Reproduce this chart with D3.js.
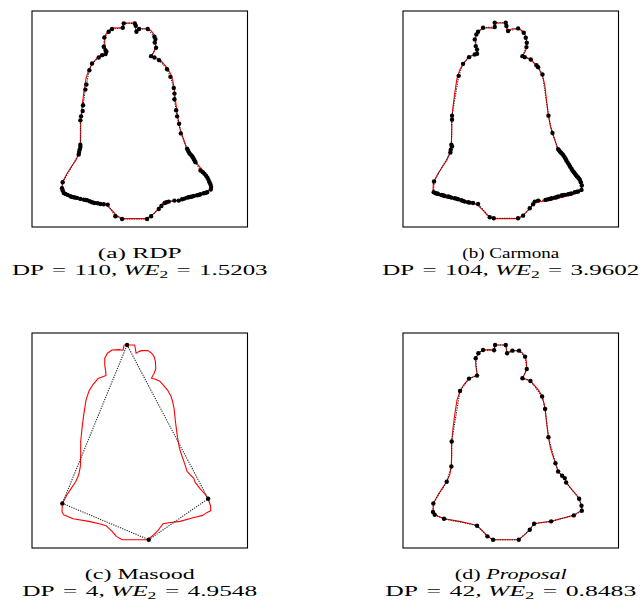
<!DOCTYPE html>
<html>
<head>
<meta charset="utf-8">
<script src="https://cdn.jsdelivr.net/npm/d3@7"></script>
<style>
  body { margin: 0; background: #fff; }
  svg { display: block; }
</style>
</head>
<body>
<svg id="chart" width="644" height="612"></svg>
<script>
// Bell contour, image coordinates (x = column, y = row, y grows downward)
const bellContour = [
  [276,36],[308,36],[310,48],[312,61],[320,56],[328,53],[348,53],[358,60],[366,71],[370,86],
  [371,108],[366,121],[358,136],[370,139],[382,144],[395,158],[408,174],[417,191],[422,208],[426,228],
  [430,266],[436,313],[442,346],[450,371],[457,391],[465,416],[477,429],[485,436],[489,449],[505,469],
  [520,486],[528,498],[535,519],[536,534],[525,539],[512,548],[480,556],[444,566],[410,570],[393,573],
  [383,586],[380,591],[365,606],[347,621],[310,621],[270,621],[253,611],[240,596],[222,579],[205,574],
  [170,566],[123,558],[95,546],[90,538],[91,512],[105,486],[118,466],[131,447],[140,426],[145,401],
  [146,366],[146,326],[150,286],[155,246],[162,201],[171,174],[182,156],[198,137],[222,128],[221,116],
  [218,96],[218,76],[226,61],[240,51],[260,50],[273,52]
];

// Dominant points found by each method (same coordinate frame)
const rdpPoints = [
  [275,37],[308,37],[311,44],[313,62],[321,54],[347,54],[367,77],[370,84],[368,94],[372,110],
  [357,135],[367,139],[381,147],[405,174],[415,197],[425,230],[427,247],[427,264],[432,297],[435,315],
  [441,337],[446,366],[465,412],[468,418],[471,424],[474,428],[478,432],[481,436],[484,441],[487,446],
  [490,452],[505,477],[512,482],[517,487],[522,493],[526,499],[529,505],[532,512],[535,519],[537,526],
  [536,534],[525,542],[520,544],[515,545],[505,548],[500,550],[495,551],[485,553],[480,555],[475,556],
  [470,557],[465,558],[457,561],[450,563],[440,567],[427,567],[410,570],[403,572],[398,574],[388,583],
  [380,592],[357,614],[345,622],[270,622],[250,614],[227,579],[215,578],[205,577],[197,575],[187,574],
  [180,572],[173,569],[165,566],[160,565],[155,564],[145,562],[135,559],[130,558],[125,557],[120,556],
  [115,554],[107,550],[100,547],[95,544],[92,537],[90,530],[92,512],[140,429],[141,422],[143,414],
  [145,407],[145,400],[145,327],[147,315],[152,299],[153,282],[160,235],[163,220],[172,177],[180,157],
  [200,139],[210,132],[220,129],[223,122],[220,117],[215,107],[217,79],[230,62],[240,54],[272,50]
];

const carmonaPoints = [
  [275,35],[308,35],[310,45],[315,60],[345,52],[362,65],[368,80],[371,95],[370,108],[358,135],
  [365,138],[383,145],[400,162],[405,168],[418,190],[436,313],[448,365],[465,413],[467,416],[470,420],
  [474,424],[478,428],[481,432],[485,438],[488,443],[490,448],[494,454],[498,460],[501,466],[505,472],
  [508,477],[512,482],[515,486],[518,490],[521,494],[525,498],[528,502],[530,505],[533,512],[536,522],
  [535,535],[525,540],[520,541],[515,542],[505,546],[500,547],[495,548],[485,550],[480,551],[475,552],
  [465,555],[460,557],[455,558],[445,560],[440,562],[435,563],[427,565],[405,567],[395,570],[390,578],
  [380,590],[360,612],[345,620],[272,620],[260,617],[225,577],[210,574],[200,573],[195,572],[185,570],
  [180,568],[175,566],[165,563],[160,561],[155,560],[145,558],[140,556],[135,555],[125,553],[120,551],
  [115,550],[105,547],[102,546],[98,545],[92,542],[93,510],[142,423],[143,415],[147,405],[145,400],
  [147,325],[147,313],[167,194],[180,158],[198,138],[215,130],[222,128],[222,115],[218,105],[215,85],
  [220,70],[225,62],[240,50],[275,48]
];

const masoodPoints = [[285,36],[528,498],[350,621],[91,512]];

const proposalPoints = [
  [276,36],[308,36],[312,61],[328,53],[348,53],[366,71],[371,108],[358,136],[382,144],[417,191],
  [426,228],[436,313],[457,391],[465,416],[477,429],[485,436],[489,449],[528,498],[535,519],[536,534],
  [512,548],[444,566],[393,573],[380,591],[347,621],[270,621],[253,611],[222,579],[123,558],[95,546],
  [90,538],[91,512],[131,447],[145,401],[146,326],[171,174],[198,137],[222,128],[218,76],[226,61],
  [240,51],[273,52]
];

const panelLetters = ["a", "b", "c", "d"];
const methodNames = ["RDP", "Carmona", "Masood", "Proposal"];
const dpCounts = [110, 104, 4, 42];
const weValues = ["1.5203", "3.9602", "4.9548", "0.8483"];
const methodPoints = [rdpPoints, carmonaPoints, masoodPoints, proposalPoints];

// ---- layout ----
const imgW = 646, imgH = 646;
const frames = [
  { x: 32,  y: 11,  w: 215.5, h: 216 },
  { x: 403, y: 11,  w: 215.5, h: 216 },
  { x: 32,  y: 333, w: 215.5, h: 215 },
  { x: 403, y: 333, w: 215.5, h: 215 }
];
// caption line widths: the whole figure is set wide, so glyphs are stretched horizontally
const titleWidths = [84, 97, 110, 112];
const scoreWidths = [256, 257, 235, 251];
const captionFont = "'Liberation Serif', 'DejaVu Serif', serif";
const captionSize = 15.5;

const svg = d3.select("#chart");

function stretchTo(t, cx, width) {
  const natural = t.node().getComputedTextLength();
  const sx = width / natural;
  t.attr("transform", `translate(${cx},0) scale(${sx},1) translate(${-cx},0)`);
}

frames.forEach((f, i) => {
  const g = svg.append("g").attr("class", "panel panel-" + panelLetters[i]);
  const x = d3.scaleLinear().domain([0, imgW]).range([f.x, f.x + f.w]);
  const y = d3.scaleLinear().domain([0, imgH]).range([f.y, f.y + f.h]);

  const line = d3.line()
    .x(d => x(d[0]))
    .y(d => y(d[1]))
    .curve(d3.curveLinearClosed);

  g.append("rect")
    .attr("x", f.x).attr("y", f.y)
    .attr("width", f.w).attr("height", f.h)
    .attr("fill", "#fff")
    .attr("stroke", "#000")
    .attr("stroke-width", 1.1);

  // original contour
  g.append("path")
    .attr("d", line(bellContour))
    .attr("fill", "none")
    .attr("stroke", "#ff0000")
    .attr("stroke-width", 1.1)
    .attr("stroke-linejoin", "round");

  // polygon through the dominant points
  g.append("path")
    .attr("d", line(methodPoints[i]))
    .attr("fill", "none")
    .attr("stroke", "#222")
    .attr("stroke-width", 1.1)
    .attr("stroke-dasharray", "1.2,1.2");

  g.selectAll("circle.dp")
    .data(methodPoints[i])
    .join("circle")
    .attr("class", "dp")
    .attr("cx", d => x(d[0]))
    .attr("cy", d => y(d[1]))
    .attr("r", 2.2)
    .attr("fill", "#000");

  // caption
  const cx = f.x + f.w / 2;
  const base1 = f.y + f.h + 31;
  const base2 = base1 + 17;

  const t1 = g.append("text")
    .attr("x", cx).attr("y", base1)
    .attr("text-anchor", "middle")
    .attr("font-family", captionFont)
    .attr("font-size", captionSize)
    .attr("fill", "#000");
  t1.append("tspan").text("(" + panelLetters[i] + ") ");
  t1.append("tspan")
    .attr("font-style", methodNames[i] === "Proposal" ? "italic" : "normal")
    .text(methodNames[i]);

  const t2 = g.append("text")
    .attr("x", cx).attr("y", base2)
    .attr("text-anchor", "middle")
    .attr("font-family", captionFont)
    .attr("font-size", captionSize)
    .attr("fill", "#000");
  t2.append("tspan").text("DP\u2004=\u2004" + dpCounts[i] + ", ");
  t2.append("tspan").attr("font-style", "italic").text("WE");
  t2.append("tspan").attr("font-size", captionSize * 0.7).attr("dy", 3).text("2");
  t2.append("tspan").attr("dy", -3).text("\u2004=\u2004" + weValues[i]);

  stretchTo(t1, cx, titleWidths[i]);
  stretchTo(t2, cx, scoreWidths[i]);
});
</script>
</body>
</html>
